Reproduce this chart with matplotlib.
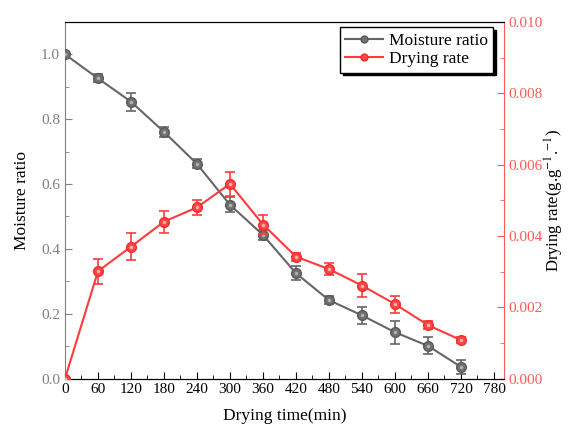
import matplotlib as mpl
mpl.use('Agg')
import matplotlib.pyplot as plt
from matplotlib.ticker import MultipleLocator

plt.rcParams['font.family'] = ['Liberation Serif', 'DejaVu Serif']
plt.rcParams['mathtext.fontset'] = 'stix'

# data
time_min = [0, 60, 120, 180, 240, 300, 360, 420, 480, 540, 600, 660, 720]
moisture = [1.0, 0.926, 0.854, 0.761, 0.662, 0.536, 0.443, 0.325, 0.242, 0.195, 0.143, 0.101, 0.036]
moisture_err = [0.0, 0.012, 0.028, 0.016, 0.014, 0.023, 0.015, 0.022, 0.012, 0.026, 0.036, 0.026, 0.021]
rate = [0.0, 0.00301, 0.0037, 0.0044, 0.0048, 0.00546, 0.00432, 0.00342, 0.00307, 0.00261, 0.00209, 0.0015, 0.00108]
rate_err = [0.0, 0.00035, 0.00038, 0.00031, 0.00021, 0.00033, 0.00026, 0.00011, 0.00017, 0.00032, 0.00024, 0.00012, 0.00008]

gray = '#666666'
red = '#ff3b3b'
red_axis = '#ff5a5a'

fig = plt.figure(figsize=(5.7, 4.3), dpi=100)
ax = fig.add_axes([0.114, 0.1195, 0.770, 0.8295])
ax2 = ax.twinx()

ax.errorbar(time_min, moisture, yerr=moisture_err, color=gray, lw=1.5,
            marker='o', ms=7, mfc='#707070', mec='#5a5a5a', capsize=3.5,
            elinewidth=1.2, capthick=1.2, label='Moisture ratio', zorder=3)
ax2.errorbar(time_min, rate, yerr=rate_err, color=red, lw=1.5,
             marker='o', ms=7, mfc='#ff4545', mec='#ee2f2f', capsize=3.5,
             elinewidth=1.2, capthick=1.2, label='Drying rate', zorder=3)
# small highlights on the balls
ax.plot(time_min, moisture, ls='none', marker='o', ms=2.5, mfc='#b0b0b0', mec='none', zorder=4)
ax2.plot(time_min, rate, ls='none', marker='o', ms=2.5, mfc='#ffb0b0', mec='none', zorder=4)

ax.set_xlim(0, 798)
ax.set_ylim(0, 1.1)
ax2.set_ylim(0, 0.01)

ax.xaxis.set_major_locator(MultipleLocator(60))
ax.xaxis.set_minor_locator(MultipleLocator(30))
ax.yaxis.set_major_locator(MultipleLocator(0.2))
ax.yaxis.set_minor_locator(MultipleLocator(0.1))
ax2.yaxis.set_major_locator(MultipleLocator(0.002))
ax2.yaxis.set_minor_locator(MultipleLocator(0.001))
ax.yaxis.set_major_formatter(mpl.ticker.FormatStrFormatter('%.1f'))
ax2.yaxis.set_major_formatter(mpl.ticker.FormatStrFormatter('%.3f'))

ax.tick_params(axis='x', which='both', direction='in', labelsize=11, colors='black')
ax.tick_params(axis='x', which='major', length=5)
ax.tick_params(axis='x', which='minor', length=3)
ax.tick_params(axis='y', which='both', direction='in', labelsize=11, colors='#808080', labelcolor='#808080')
ax.tick_params(axis='y', which='major', length=5)
ax.tick_params(axis='y', which='minor', length=3)
ax2.tick_params(axis='y', which='both', direction='in', labelsize=11, colors=red_axis)
ax2.tick_params(axis='y', which='major', length=5)
ax2.tick_params(axis='y', which='minor', length=3)

ax.spines['left'].set_color('#808080')
ax2.spines['left'].set_visible(False)
ax2.spines['right'].set_color(red_axis)
ax.spines['right'].set_visible(False)
for a in (ax, ax2):
    a.spines['top'].set_color('black')
    a.spines['bottom'].set_color('black')

ax.set_xlabel('Drying time(min)', fontsize=12.5, labelpad=8)
ax.set_ylabel('Moisture ratio', fontsize=12.5, labelpad=8)
ax2.set_ylabel('Drying rate(g.g$^{-1}$.$^{-1}$)', fontsize=12, labelpad=0)

h1, l1 = ax.get_legend_handles_labels()
h2, l2 = ax2.get_legend_handles_labels()
h1 = [mpl.lines.Line2D([], [], color=gray, lw=1.5, marker='o', ms=5, mfc='#707070', mec='#5a5a5a')]
h2 = [mpl.lines.Line2D([], [], color=red, lw=1.5, marker='o', ms=5, mfc='#ff4545', mec='#ee2f2f')]
leg = ax2.legend(h1 + h2, l1 + l2, loc='upper right', bbox_to_anchor=(0.975, 0.985),
                 fontsize=12.5, frameon=True, fancybox=False, edgecolor='black',
                 shadow={'color': 'black', 'alpha': 1}, borderpad=0.3,
                 labelspacing=0.15, handlelength=2.2, handletextpad=0.3, borderaxespad=0)
leg.get_frame().set_linewidth(1.0)

fig.savefig('out.png', dpi=100)
